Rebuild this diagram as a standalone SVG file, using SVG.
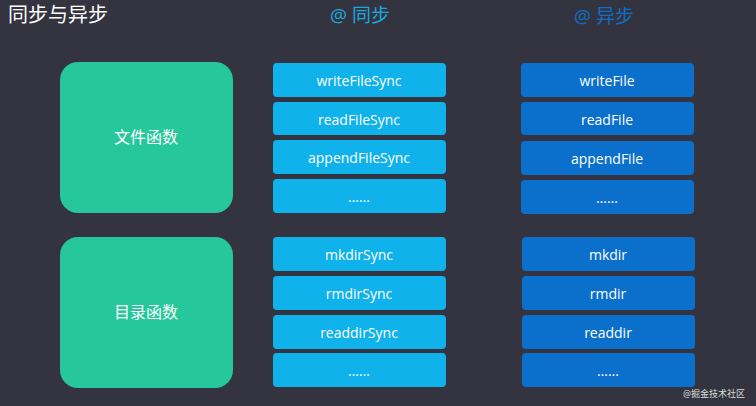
<svg xmlns="http://www.w3.org/2000/svg" width="756" height="406" viewBox="0 0 756 406">
<style>
text{font-family:"Open Sans","Noto Sans CJK SC",sans-serif;text-anchor:middle;dominant-baseline:central}
.g rect{fill:#26c79a}
.g text{fill:#fff;font-size:16px}
.s rect{fill:#0fb2ea}
.a rect{fill:#0b70cc}
.s text,.a text{fill:#fff;font-size:14px}
</style>
<rect width="756" height="406" fill="#33343f"/>
<text x="58" y="14" style="fill:#fff;font-size:20px">同步与异步</text>
<text x="360" y="15" style="fill:#1aa9df;font-size:19px">@ 同步</text>
<text x="604" y="16" style="fill:#0d6fc6;font-size:19px">@ 异步</text>
<g id="file" class="g"><rect x="60" y="62" width="173" height="151" rx="18"/><text x="146" y="137">文件函数</text></g>
<g id="dir" class="g"><rect x="60" y="237" width="173" height="151" rx="18"/><text x="146" y="312">目录函数</text></g>
<g class="s">
<g id="s1"><rect x="273" y="63" width="173" height="34" rx="4"/><text x="359" y="80">writeFileSync</text></g>
<g id="s2"><rect x="273" y="102" width="173" height="33" rx="4"/><text x="359" y="119">readFileSync</text></g>
<g id="s3"><rect x="273" y="140" width="173" height="34" rx="4"/><text x="359" y="157">appendFileSync</text></g>
<g id="s4"><rect x="273" y="179" width="173" height="34" rx="4"/><text x="359" y="196">……</text></g>
<g id="s5"><rect x="273" y="237" width="173" height="34" rx="4"/><text x="359" y="254">mkdirSync</text></g>
<g id="s6"><rect x="273" y="276" width="173" height="34" rx="4"/><text x="359" y="293">rmdirSync</text></g>
<g id="s7"><rect x="273" y="315" width="173" height="34" rx="4"/><text x="359" y="332">readdirSync</text></g>
<g id="s8"><rect x="273" y="353" width="173" height="34" rx="4"/><text x="359" y="370">……</text></g>
</g>
<g class="a">
<g id="a1"><rect x="521" y="63" width="173" height="34" rx="4"/><text x="607" y="80">writeFile</text></g>
<g id="a2"><rect x="521" y="102" width="173" height="33" rx="4"/><text x="607" y="119">readFile</text></g>
<g id="a3"><rect x="521" y="141" width="173" height="34" rx="4"/><text x="607" y="158">appendFile</text></g>
<g id="a4"><rect x="521" y="180" width="173" height="34" rx="4"/><text x="607" y="197">……</text></g>
<g id="a5"><rect x="522" y="237" width="173" height="34" rx="4"/><text x="608" y="254">mkdir</text></g>
<g id="a6"><rect x="522" y="276" width="173" height="34" rx="4"/><text x="608" y="293">rmdir</text></g>
<g id="a7"><rect x="522" y="315" width="173" height="34" rx="4"/><text x="608" y="332">readdir</text></g>
<g id="a8"><rect x="522" y="353" width="173" height="34" rx="4"/><text x="608" y="370">……</text></g>
</g>
<g id="connectors"/>
<text x="714" y="393" style="fill:#ddd;font-size:9px">@掘金技术社区</text>
</svg>
